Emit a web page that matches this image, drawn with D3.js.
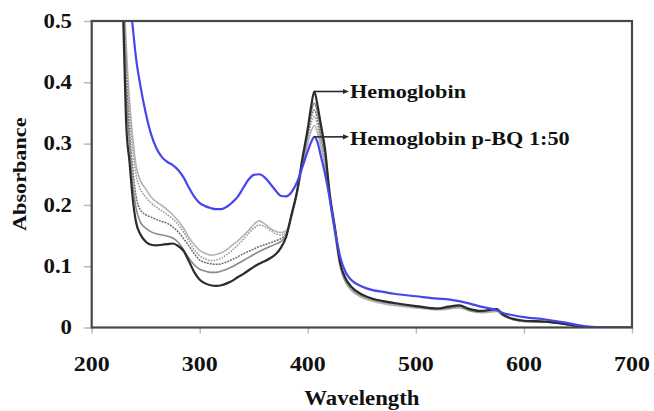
<!DOCTYPE html>
<html>
<head>
<meta charset="utf-8">
<script src="https://cdn.jsdelivr.net/npm/d3@7"></script>
<style>
  html, body { margin: 0; padding: 0; background: #fff; }
  svg { display: block; }
</style>
</head>
<body>
<svg id="chart" width="654" height="411"></svg>
<script>
// Wavelength grid (nm)
const wavelengths = [228,230,232,235,238,241,245,250,255,260,265,270,275,280,285,290,295,300,305,310,315,320,325,330,335,340,345,350,355,360,365,370,375,380,385,390,395,400,403,406,409,412,416,420,425,430,435,440,450,460,470,480,500,520,530,540,550,560,575,580,590,600,620,640,650,660,680,700];

// Absorbance spectra
const hemoglobin = [0.58,0.45,0.33,0.27,0.21,0.172,0.152,0.14,0.135,0.134,0.135,0.136,0.137,0.133,0.125,0.108,0.09,0.078,0.072,0.069,0.068,0.069,0.072,0.076,0.082,0.087,0.093,0.099,0.104,0.108,0.113,0.119,0.13,0.148,0.185,0.222,0.276,0.325,0.36,0.385,0.362,0.332,0.29,0.222,0.164,0.105,0.08,0.067,0.054,0.047,0.043,0.04,0.035,0.031,0.034,0.036,0.03,0.027,0.03,0.022,0.014,0.011,0.0095,0.005,0.002,0,0,0];
const pbq1to50 = [null,null,null,0.54,0.49,0.44,0.395,0.35,0.315,0.292,0.278,0.27,0.265,0.257,0.245,0.228,0.213,0.203,0.198,0.195,0.193,0.193,0.197,0.204,0.213,0.227,0.241,0.249,0.25,0.245,0.235,0.224,0.215,0.214,0.221,0.237,0.262,0.288,0.302,0.311,0.302,0.28,0.25,0.213,0.16,0.115,0.09,0.078,0.067,0.061,0.058,0.055,0.051,0.047,0.046,0.043,0.039,0.034,0.028,0.024,0.02,0.017,0.013,0.0075,0.004,0.0015,0,0];
const pbqA = [0.62,0.54,0.46,0.37,0.31,0.265,0.24,0.226,0.213,0.205,0.199,0.192,0.184,0.174,0.162,0.147,0.135,0.126,0.121,0.118,0.119,0.122,0.127,0.134,0.141,0.149,0.158,0.168,0.174,0.169,0.162,0.157,0.155,0.158,0.182,0.218,0.262,0.3,0.32,0.33,0.318,0.296,0.262,0.21,0.152,0.098,0.073,0.061,0.049,0.043,0.039,0.036,0.032,0.029,0.03,0.032,0.027,0.024,0.026,0.02,0.013,0.01,0.009,0.005,0.002,0,0,0];
const pbqB = [0.6,0.52,0.44,0.35,0.29,0.25,0.226,0.213,0.203,0.196,0.19,0.184,0.177,0.168,0.156,0.141,0.127,0.117,0.112,0.109,0.11,0.113,0.119,0.126,0.134,0.143,0.153,0.162,0.167,0.165,0.159,0.153,0.151,0.156,0.18,0.218,0.266,0.31,0.333,0.344,0.33,0.305,0.27,0.212,0.155,0.1,0.075,0.063,0.051,0.045,0.041,0.038,0.034,0.03,0.031,0.034,0.028,0.025,0.027,0.021,0.013,0.01,0.009,0.005,0.002,0,0,0];
const pbqC = [0.59,0.5,0.41,0.32,0.26,0.215,0.192,0.184,0.18,0.176,0.173,0.17,0.164,0.156,0.145,0.133,0.12,0.11,0.106,0.104,0.103,0.104,0.107,0.111,0.115,0.12,0.124,0.128,0.132,0.135,0.138,0.141,0.145,0.153,0.182,0.22,0.27,0.315,0.342,0.355,0.34,0.313,0.276,0.215,0.158,0.102,0.077,0.065,0.052,0.046,0.042,0.039,0.034,0.031,0.032,0.035,0.028,0.026,0.029,0.021,0.014,0.011,0.009,0.005,0.002,0,0,0];
const pbqD = [0.59,0.48,0.38,0.3,0.235,0.195,0.172,0.162,0.156,0.153,0.151,0.149,0.146,0.139,0.127,0.113,0.102,0.095,0.092,0.09,0.09,0.092,0.095,0.099,0.104,0.109,0.114,0.119,0.124,0.128,0.132,0.136,0.14,0.15,0.183,0.221,0.272,0.318,0.35,0.366,0.35,0.322,0.283,0.218,0.16,0.103,0.078,0.066,0.053,0.046,0.042,0.039,0.034,0.03,0.032,0.035,0.028,0.026,0.029,0.021,0.013,0.01,0.009,0.005,0.002,0,0,0];

const xTicks = [200, 300, 400, 500, 600, 700];
const xTickLabels = ["200", "300", "400", "500", "600", "700"];
const yTicks = [0, 0.1, 0.2, 0.3, 0.4, 0.5];
const yTickLabels = ["0", "0.1", "0.2", "0.3", "0.4", "0.5"];
const legendLabels = ["Hemoglobin", "Hemoglobin p-BQ 1:50"];

const FONT = "'Liberation Serif', 'Times New Roman', Times, serif";
const svg = d3.select("#chart");
const margin = { left: 91.7, top: 21, right: 22, bottom: 83.5 };
const W = 654, H = 411;
const x = d3.scaleLinear().domain([200, 700]).range([margin.left, W - margin.right]);
const y = d3.scaleLinear().domain([0, 0.5]).range([H - margin.bottom, margin.top]);
const STRETCH = 1.14;

function styleText(sel, size) {
  sel.attr("font-family", FONT)
    .style("font-family", FONT)
    .attr("font-weight", "bold")
    .style("font-size", size + "px")
    .attr("fill", "#111");
}

svg.append("defs").append("clipPath").attr("id", "plotClip")
  .append("rect")
  .attr("x", x(200)).attr("y", y(0.5))
  .attr("width", x(700) - x(200)).attr("height", y(0) - y(0.5));

// spectra, drawn back to front
const series = [
  { values: pbqA, color: "#b4b4b4", width: 1.6, dash: null },
  { values: pbqB, color: "#9a9a9a", width: 1.6, dash: "1.6,1.2" },
  { values: pbqC, color: "#6e6e6e", width: 1.5, dash: "2,1" },
  { values: pbqD, color: "#8a8a8a", width: 1.6, dash: null },
  { values: hemoglobin, color: "#2b2b2b", width: 2.2, dash: null },
  { values: pbq1to50, color: "#4646ec", width: 2.2, dash: null }
];

const line = d3.line()
  .defined(d => d[1] !== null)
  .x(d => x(d[0]))
  .y(d => y(d[1]))
  .curve(d3.curveMonotoneX);

const plot = svg.append("g").attr("clip-path", "url(#plotClip)");
series.forEach(s => {
  plot.append("path")
    .datum(wavelengths.map((w, i) => [w, s.values[i]]))
    .attr("fill", "none")
    .attr("stroke", s.color)
    .attr("stroke-width", s.width)
    .attr("stroke-dasharray", s.dash)
    .attr("stroke-linejoin", "round")
    .attr("d", line);
});

// axes: tick marks from d3.axis, labels placed on the same scales
const xAxis = svg.append("g")
  .attr("transform", `translate(0,${y(0)})`)
  .call(d3.axisBottom(x).tickValues(xTicks).tickSize(6).tickFormat(""));
xAxis.select(".domain").remove();
xAxis.selectAll(".tick line").attr("stroke", "#bbb").attr("stroke-width", 1.5);

const yAxis = svg.append("g")
  .attr("transform", `translate(${x(200)},0)`)
  .call(d3.axisLeft(y).tickValues(yTicks).tickSize(8).tickFormat(""));
yAxis.select(".domain").remove();
yAxis.selectAll(".tick line").attr("stroke", "#bbb").attr("stroke-width", 1.5);

svg.append("g").selectAll("text")
  .data(xTicks)
  .join("text")
  .attr("transform", d => `translate(${x(d)},${y(0) + 43}) scale(${STRETCH},1)`)
  .attr("text-anchor", "middle")
  .call(styleText, 21)
  .text((d, i) => xTickLabels[i]);

svg.append("g").selectAll("text")
  .data(yTicks)
  .join("text")
  .attr("transform", d => `translate(${x(200) - 19.7},${y(d) + 6.8}) scale(${STRETCH},1)`)
  .attr("text-anchor", "end")
  .call(styleText, 20)
  .text((d, i) => yTickLabels[i]);

// frame
svg.append("rect")
  .attr("x", x(200)).attr("y", y(0.5))
  .attr("width", x(700) - x(200)).attr("height", y(0) - y(0.5))
  .attr("fill", "none").attr("stroke", "#474747").attr("stroke-width", 2.2);

// axis titles
svg.append("text")
  .attr("transform", `translate(${x(450)},405) scale(${STRETCH},1)`)
  .attr("text-anchor", "middle")
  .call(styleText, 20)
  .text("Wavelength");

svg.append("text")
  .attr("transform", `translate(25.5,${(y(0.5) + y(0)) / 2}) rotate(-90) scale(${STRETCH},1)`)
  .attr("text-anchor", "middle")
  .call(styleText, 19.5)
  .text("Absorbance");

// labels pointing at the Soret peaks
const peakIdx = wavelengths.indexOf(406);
const callouts = [
  { label: legendLabels[0], lam: 406, val: hemoglobin[peakIdx], baseline: 98.3 },
  { label: legendLabels[1], lam: 406, val: pbq1to50[peakIdx], baseline: 145 }
];
callouts.forEach(c => {
  const yy = y(c.val);
  svg.append("line")
    .attr("x1", x(c.lam) - 0.5).attr("x2", 345)
    .attr("y1", yy).attr("y2", yy)
    .attr("stroke", "#2a2a2a").attr("stroke-width", 1.6);
  svg.append("path")
    .attr("d", `M${343},${yy - 2.6} L${349},${yy} L${343},${yy + 2.6} Z`)
    .attr("fill", "#2a2a2a");
  svg.append("text")
    .attr("transform", `translate(350,${c.baseline}) scale(${STRETCH},1)`)
    .call(styleText, 19.5)
    .text(c.label);
});
</script>
</body>
</html>
